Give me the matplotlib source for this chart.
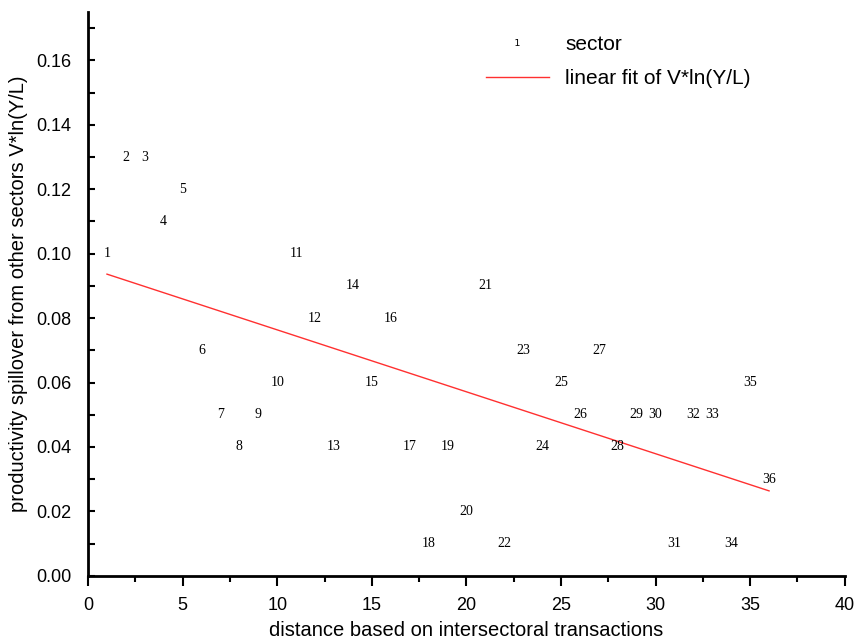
import numpy as np
import matplotlib
matplotlib.use("Agg")
import matplotlib.pyplot as plt
from matplotlib.lines import Line2D
from matplotlib.ticker import MultipleLocator

# sector number = distance
sector = list(range(1, 37))
spill = [0.10, 0.13, 0.13, 0.11, 0.12, 0.07, 0.05, 0.04, 0.05, 0.06,
         0.10, 0.08, 0.04, 0.09, 0.06, 0.08, 0.04, 0.01, 0.04, 0.02,
         0.09, 0.01, 0.07, 0.04, 0.06, 0.05, 0.07, 0.04, 0.05, 0.05,
         0.01, 0.05, 0.05, 0.01, 0.06, 0.03]

plt.rcParams['font.family'] = ['Liberation Sans', 'DejaVu Sans']

fig = plt.figure(figsize=(8.55, 6.39), dpi=100)
ax = fig.add_axes([0.103, 0.099, 0.885, 0.882])

for s, v in zip(sector, spill):
    ax.text(s, v, str(s), ha='center', va='center', fontsize=10,
            family='Liberation Serif')

k, b = np.polyfit(sector, spill, 1)
xs = np.array([sector[0], sector[-1]])
ax.plot(xs, k * xs + b, color='#ff3030', lw=1.0)

ax.set_xlim(0, 40)
ax.set_ylim(0, 0.175)
ax.xaxis.set_major_locator(MultipleLocator(5))
ax.xaxis.set_minor_locator(MultipleLocator(2.5))
ax.yaxis.set_major_locator(MultipleLocator(0.02))
ax.yaxis.set_minor_locator(MultipleLocator(0.01))
ax.yaxis.set_major_formatter(matplotlib.ticker.FormatStrFormatter('%.2f'))
for side in ['top', 'right']:
    ax.spines[side].set_visible(False)
for side in ['left', 'bottom']:
    ax.spines[side].set_linewidth(2)
ax.tick_params(axis='x', which='major', direction='out', length=7, width=1.5,
               labelsize=13, pad=8)
ax.tick_params(axis='x', which='minor', direction='out', length=4, width=1.5)
ax.tick_params(axis='y', which='both', direction='in', length=5, width=1.5,
               labelsize=13, pad=12)
ax.set_xlabel('distance based on intersectoral transactions', fontsize=14.5,
              labelpad=5)
ax.set_ylabel('productivity spillover from other sectors V*ln(Y/L)',
              fontsize=14.5, labelpad=6)

handles = [Line2D([], [], ls='none', marker='$\\mathrm{1}$', color='black',
                  markersize=5, markeredgewidth=0),
           Line2D([], [], color='#ff3030', lw=1.0)]
ax.legend(handles, ['sector', 'linear fit of V*ln(Y/L)'], loc='upper left',
          bbox_to_anchor=(0.526, 0.96), frameon=False, fontsize=15,
          borderaxespad=0, borderpad=0,
          handlelength=3.0, labelspacing=0.75, handletextpad=0.8)

fig.savefig('out.png', dpi=100)
